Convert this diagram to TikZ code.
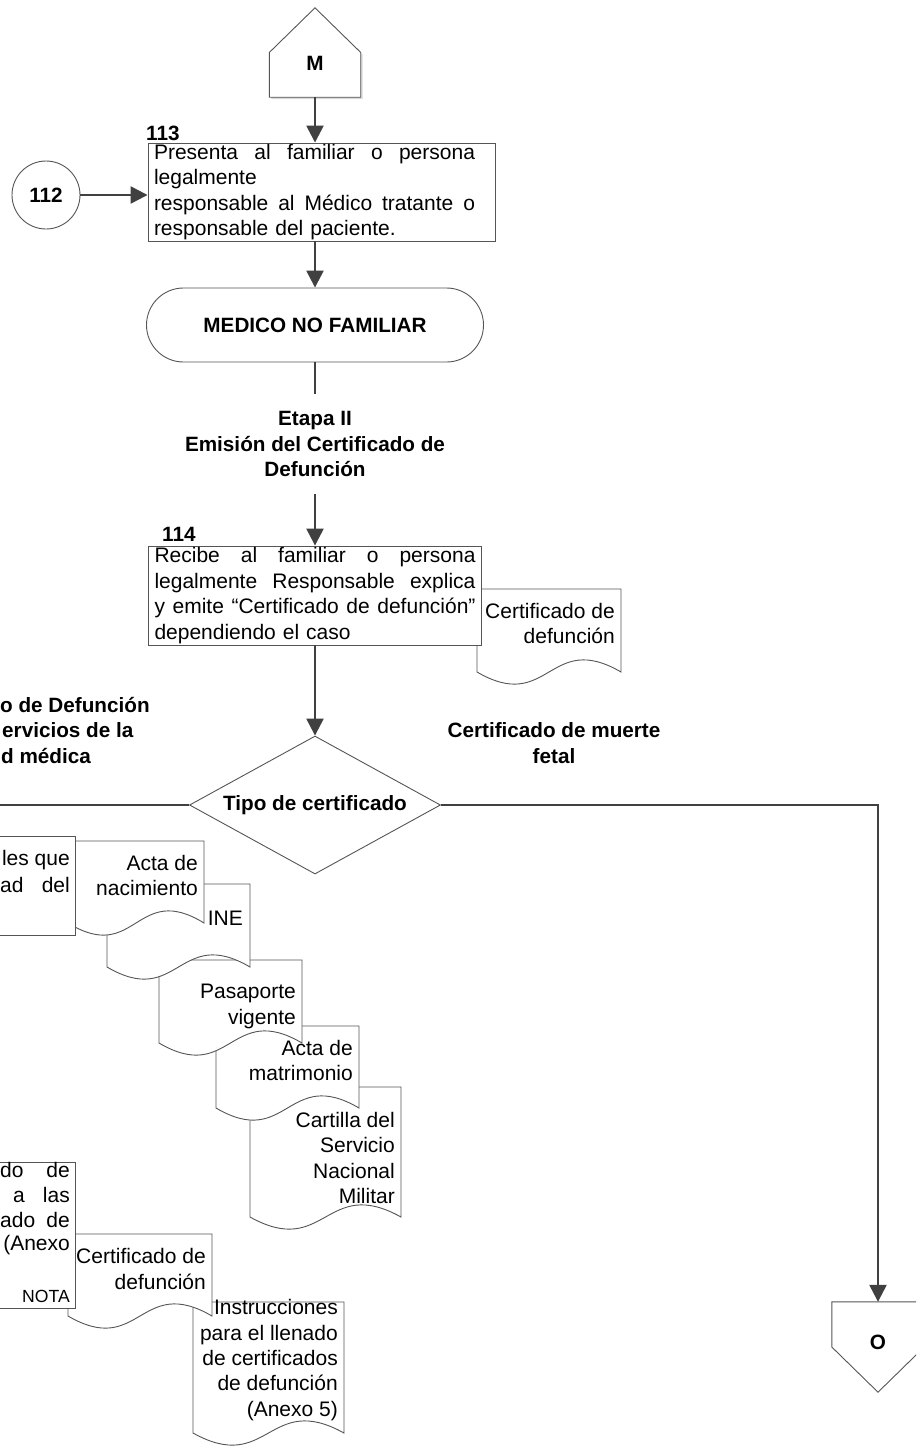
\documentclass[tikz,border=0pt]{standalone}
\usepackage{fontspec}
\setmainfont{Liberation Sans}
\usetikzlibrary{arrows.meta,shapes.geometric,calc}
\definecolor{shapegray}{HTML}{555555}
\definecolor{conngray}{HTML}{404040}
\tikzset{
  shapeline/.style={draw=shapegray, line width=0.9pt, fill=white},
  conn/.style={draw=conngray, line width=2.4pt},
  arr/.style={conn, -{Triangle[length=17pt,width=17pt]}},
  bold/.style={font=\fontsize{20.7}{25.4}\selectfont\bfseries},
  box/.style={shapeline, rectangle, inner xsep=6pt, inner ysep=0pt, align=left},
  doctext/.style={inner sep=0pt, align=right, anchor=east},
  frag/.style={inner sep=0pt, anchor=base east},
  fragw/.style={inner sep=0pt, anchor=base west},
}
% justified line of the step boxes
\newcommand\jline[1]{\leavevmode\hbox to 321pt{#1}}
% document symbol: x, top, width, height (wavy bottom)
\newcommand\docshape[4]{%
  \path[shapeline] (#1,#2) -- ({#1+#3},#2) -- ({#1+#3},{#2+#4})
    .. controls ({#1+#3/2},{#2+#4-42}) and ({#1+#3/2},{#2+#4+42}) .. (#1,{#2+#4}) -- cycle;}
\begin{document}
\begin{tikzpicture}[x=1pt,y=-1pt,font=\fontsize{21}{25.4}\selectfont]
\useasboundingbox (0,0) rectangle (916,1456);
\fill[white] (0,0) rectangle (916,1456);
\clip (0,0) rectangle (916,1456);

% off-page connector M
\node[minimum width=91pt, minimum height=89pt, inner sep=0pt] (Mbox) at (315,52.5) {};
\fill[gray!30] ([xshift=2pt,yshift=-2pt]Mbox.south west) -- ([xshift=2pt,yshift=-2pt]Mbox.west)
  -- ([xshift=2pt,yshift=-2pt]Mbox.north) -- ([xshift=2pt,yshift=-2pt]Mbox.east)
  -- ([xshift=2pt,yshift=-2pt]Mbox.south east) -- cycle;
\path[shapeline] (Mbox.south west) -- (Mbox.west) -- (Mbox.north) -- (Mbox.east) -- (Mbox.south east) -- cycle;
\node[bold, inner sep=0pt] (Mlabel) at ([yshift=-11pt]Mbox.center) {M};

% step 113
\node[inner sep=0pt, anchor=base west, bold] (n113) at (146,140) {113};
\node[box, minimum width=347pt, minimum height=98pt, text width=335pt] (b113) at (321.5,192) {%
\jline{Presenta\hfill al\hfill familiar\hfill o\hfill persona}\\
legalmente\\
\jline{responsable\hfill al\hfill Médico\hfill tratante\hfill o}\\
responsable del paciente.};

% connector 112
\node[shapeline, circle, minimum size=68pt, inner sep=0pt, bold] (c112) at (46,195) {112};

% actor
\node[shapeline, rounded corners=37pt, minimum width=337pt, minimum height=74pt, inner sep=0pt, bold] (term) at (315,325) {MEDICO NO FAMILIAR};

% stage title
\node[bold, align=center, minimum height=100pt, inner sep=0pt] (etapa) at (315,444)
  {Etapa II\\Emisión del Certificado de\\Defunción};

% step 114 and its document
\docshape{477}{589}{144}{83}
\node[inner sep=0pt, anchor=base west, bold] (n114) at (162,541) {114};
\node[box, minimum width=333pt, minimum height=99pt, text width=321pt] (b114) at (315,595.5) {%
\jline{Recibe\hfill al\hfill familiar\hfill o\hfill persona}\\
\jline{legalmente\hfill Responsable\hfill explica}\\
\jline{y\hfill emite\hfill “Certificado\hfill de\hfill defunción”}\\
dependiendo el caso};
\node[doctext] (d1) at (615,623.5) {Certificado de\\defunción};

% decision
\node[shapeline, diamond, aspect=1.82, minimum width=251pt, minimum height=138pt, inner sep=0pt, bold] (dia) at (315,805) {Tipo de certificado};
\node[bold, align=center, inner sep=0pt] (fetal) at (554,743) {Certificado de muerte\\fetal};
\node[fragw, bold] (lab1) at (0,712.5) {o de Defunción};
\node[fragw, bold] (lab2) at (2,737.5) {ervicios de la};
\node[fragw, bold] (lab3) at (1,763.5) {d médica};

% identification documents
\docshape{250}{1087}{151}{130}
\docshape{216}{1026}{143}{82}
\docshape{159}{960}{143}{83}
\docshape{107}{884}{143}{83}
\docshape{68}{841}{136}{82}
\path[shapeline] (-10,836) rectangle (75.7,935);
\node[frag] at (70,865) {les que};
\node[fragw] at (0,892) {ad};
\node[frag] at (70,892) {del};
\node[doctext] (d2) at (198,875.5) {Acta de\\nacimiento};
\node[doctext] (d3) at (243,918) {INE};
\node[doctext] (d4) at (296,1006.5) {Pasaporte\\vigente};
\node[doctext] (d5) at (353,1060.5) {Acta de\\matrimonio};
\node[doctext] (d6) at (395,1158) {Cartilla del\\Servicio\\Nacional\\Militar};

% certificate and instructions
\docshape{193}{1302}{151}{131}
\docshape{68}{1234}{144}{82}
\path[shapeline] (-10,1162) rectangle (75.7,1308);
\node[fragw] at (0,1177) {do};
\node[frag] at (70,1177) {de};
\node[frag] at (25,1202) {a};
\node[frag] at (70,1202) {las};
\node[fragw] at (0,1227) {ado};
\node[frag] at (70,1227) {de};
\node[frag] at (70,1250) {(Anexo};
\node[frag, font=\fontsize{17.6}{20}\selectfont] at (70,1302) {NOTA};
\node[doctext] (d7) at (206,1269) {Certificado de\\defunción};
\node[doctext] (d8) at (338,1360) {Instrucciones\\para el llenado\\de certificados\\de defunción\\(Anexo 5)};

% off-page connector O
\node[minimum width=92pt, minimum height=90pt, inner sep=0pt] (Obox) at (878,1347) {};
\path[shapeline] (Obox.north west) -- (Obox.north east) -- (Obox.east) -- (Obox.south) -- (Obox.west) -- cycle;
\node[bold, inner sep=0pt] (Olabel) at ([yshift=5pt]Obox.center) {O};

% connectors
\draw[arr] (Mbox.south) -- (Mbox.south |- b113.north);
\draw[arr] (c112.east) -- (c112.east -| b113.west);
\draw[arr] (term.north |- b113.south) -- (term.north);
\draw[conn] (term.south) -- (etapa.north);
\draw[arr] (etapa.south) -- (b114.north);
\draw[arr] (b114.south) -- (dia.north);
\coordinate (leftend) at (-5,805);
\draw[conn] (dia.west) -- (leftend);
\draw[arr] (dia.east) -| (Obox.north);
\end{tikzpicture}
\end{document}
